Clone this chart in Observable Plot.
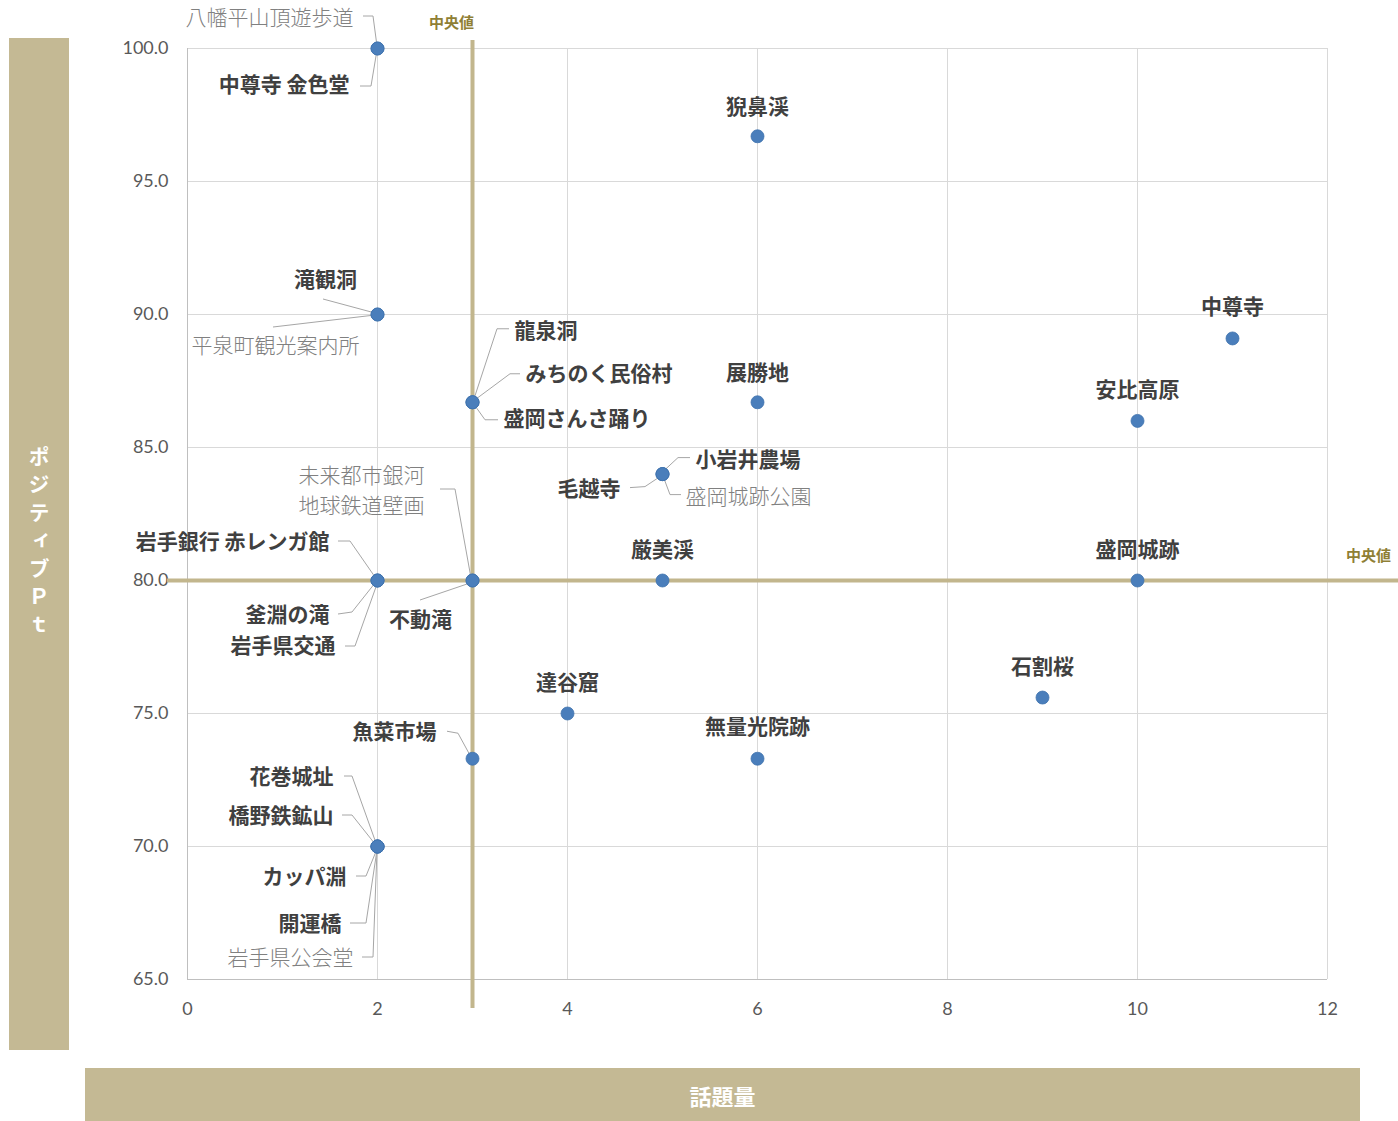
<!DOCTYPE html>
<html>
<head>
<meta charset="utf-8">
<script src="https://cdn.jsdelivr.net/npm/d3@7"></script>
<script src="https://cdn.jsdelivr.net/npm/@observablehq/plot@0.6"></script>
<style>
  body { margin: 0; background: #fff; }
  #wrap { position: relative; width: 1398px; height: 1121px; overflow: hidden; font-family: "Noto Sans CJK JP", sans-serif; }
  .band { position: absolute; background: #c4b994; color: #fff; font-weight: bold; display: flex; align-items: center; justify-content: center; }
  #yband { left: 9px; top: 38px; width: 60px; height: 1012px; }
  #yband span { writing-mode: vertical-rl; text-orientation: upright; font-size: 21px; letter-spacing: 7px; }
  #xband { left: 85px; top: 1068px; width: 1275px; height: 53px; font-size: 22px; }
  #chart { position: absolute; left: 0; top: 0; }
</style>
</head>
<body>
<div id="wrap">
  <div class="band" id="yband"><span>ポジティブＰｔ</span></div>
  <div class="band" id="xband">話題量</div>
  <div id="chart"></div>
</div>
<script>
// ---- data ----
const names = ["八幡平山頂遊歩道","中尊寺 金色堂","猊鼻渓","滝観洞","平泉町観光案内所","中尊寺","龍泉洞","みちのく民俗村","盛岡さんさ踊り","展勝地","安比高原","小岩井農場","毛越寺","盛岡城跡公園","未来都市銀河\n地球鉄道壁画","不動滝","岩手銀行 赤レンガ館","釜淵の滝","岩手県交通","厳美渓","盛岡城跡","石割桜","達谷窟","無量光院跡","魚菜市場","花巻城址","橋野鉄鉱山","カッパ淵","開運橋","岩手県公会堂"];
const wadai = [2,2,6,2,2,11,3,3,3,6,10,5,5,5,3,3,2,2,2,5,10,9,4,6,3,2,2,2,2,2];
const positive = [100,100,96.7,90,90,89.1,86.7,86.7,86.7,86.7,86.0,84.0,84.0,84.0,80,80,80,80,80,80,80,75.6,75,73.3,73.3,70,70,70,70,70];
const xTicks = [0,2,4,6,8,10,12];
const yTicks = [65,70,75,80,85,90,95,100];
const medianLabel = "中央値";

// ---- label layout (pixel offsets from each point) ----
const layout = [
  {dx:-24, dy:-31, a:"end", light:true, leader:[[-14,-32],[-4,-32],[0,-2]]},
  {dx:-28, dy:36, a:"end", leader:[[-17,38],[-6,38],[0,2]]},
  {dx:0, dy:-30, a:"middle"},
  {dx:-52, dy:-35, a:"middle", leader:[[-54,-15],[-2,-1]]},
  {dx:-102, dy:31, a:"middle", light:true, leader:[[-104,13],[-2,1]]},
  {dx:0, dy:-32, a:"middle"},
  {dx:42, dy:-72, a:"start", leader:[[37,-73],[25,-73],[2,-3]]},
  {dx:53, dy:-29, a:"start", leader:[[48,-28],[38,-28],[3,-2]]},
  {dx:31, dy:16, a:"start", leader:[[26,18],[13,18],[3,4]]},
  {dx:0, dy:-30, a:"middle"},
  {dx:0, dy:-32, a:"middle"},
  {dx:33, dy:-15, a:"start", leader:[[28,-16],[16,-16],[2,-3]]},
  {dx:-42, dy:14, a:"end", leader:[[-32,14],[-17,13],[-2,3]]},
  {dx:23, dy:22, a:"start", light:true, leader:[[19,21],[8,21],[2,5]]},
  {dx:-48, dy:-90, a:"end", light:true, leader:[[-32,-91],[-17,-91],[-1,-2]]},
  {dx:-52, dy:39, a:"middle", leader:[[-52,20],[-2,3]]},
  {dx:-48, dy:-39, a:"end", leader:[[-39,-39],[-27,-39],[-2,-3]]},
  {dx:-48, dy:34, a:"end", leader:[[-39,34],[-25,32],[-2,3]]},
  {dx:-42, dy:65, a:"end", leader:[[-32,66],[-22,66],[0,4]]},
  {dx:0, dy:-31, a:"middle"},
  {dx:0, dy:-31, a:"middle"},
  {dx:0, dy:-31, a:"middle"},
  {dx:0, dy:-31, a:"middle"},
  {dx:0, dy:-32, a:"middle"},
  {dx:-36, dy:-27, a:"end", leader:[[-25,-27],[-14,-25],[-2,-3]]},
  {dx:-44, dy:-70, a:"end", leader:[[-33,-70],[-25,-70],[-1,-3]]},
  {dx:-44, dy:-31, a:"end", leader:[[-35,-31],[-25,-31],[-2,-2]]},
  {dx:-31, dy:30, a:"end", leader:[[-21,30],[-11,30],[0,3]]},
  {dx:-36, dy:77, a:"end", leader:[[-27,77],[-11,77],[0,4]]},
  {dx:-24, dy:111, a:"end", light:true, leader:[[-15,111],[-4,111],[0,4]]}
];

const idx = d3.range(names.length);
const medX = d3.median(wadai);
const medY = d3.median(positive);
const tan = "#c2b68d";

const labelMarks = idx.map(i => Plot.text([i], {
  x: j => wadai[j], y: j => positive[j], text: j => names[j],
  dx: layout[i].dx, dy: layout[i].dy - 2, textAnchor: layout[i].a,
  fontSize: 21, lineHeight: 1.43,
  fontFamily: "Noto Sans CJK JP",
  fontWeight: layout[i].light ? 300 : "bold",
  fill: layout[i].light ? "#808080" : "#404040"
}));

const chart = Plot.plot({
  width: 1398, height: 1060,
  marginLeft: 187, marginRight: 71, marginTop: 48, marginBottom: 81,
  style: {background: "transparent", overflow: "visible"},
  x: {domain: [0, 12], ticks: xTicks, label: null},
  y: {domain: [65, 100], ticks: yTicks, label: null},
  marks: [
    Plot.gridX(xTicks, {stroke: "#d9d9d9", strokeOpacity: 1}),
    Plot.gridY(yTicks, {stroke: "#d9d9d9", strokeOpacity: 1}),
    Plot.ruleY([65], {stroke: "#bfbfbf"}),
    Plot.ruleX([0], {stroke: "#bfbfbf"}),
    Plot.axisX(xTicks, {tickSize: 0, tickPadding: 23, fontSize: 18, fontFamily: "Lato", fill: "#595959"}),
    Plot.axisY(yTicks, {tickSize: 0, tickPadding: 19, fontSize: 18, fontFamily: "Lato", fill: "#595959", tickFormat: d3.format(".1f")}),
    Plot.ruleY([medY], {stroke: tan, strokeWidth: 4, insetLeft: -20, insetRight: -71}),
    Plot.ruleX([medX], {stroke: tan, strokeWidth: 4, insetTop: -8, insetBottom: -29}),
    Plot.text([medX], {x: d => d, y: () => 100, text: () => medianLabel, dx: -21, dy: -25, fontSize: 15, fontWeight: "bold", fill: "#8f7f35", fontFamily: "Noto Sans CJK JP"}),
    Plot.text([medY], {x: () => 12, y: d => d, text: () => medianLabel, dx: 41, dy: -24, fontSize: 15, fontWeight: "bold", fill: "#8f7f35", fontFamily: "Noto Sans CJK JP"}),
    Plot.dot(idx, {x: i => wadai[i], y: i => positive[i], r: 6.5, fill: "#4a7ebb", stroke: "#3f72ad", strokeWidth: 0.8}),
    ...labelMarks
  ]
});
document.getElementById("chart").appendChild(chart);

// leader lines through the plot's own scales
const sx = chart.scale("x"), sy = chart.scale("y");
const svg = d3.select(chart);
const g = svg.insert("g", 'g[aria-label="dot"]').attr("fill", "none").attr("stroke", "#a6a6a6").attr("stroke-width", 1);
idx.forEach(i => {
  const L = layout[i].leader;
  if (!L) return;
  const px = sx.apply(wadai[i]), py = sy.apply(positive[i]);
  g.append("path").attr("d", d3.line()(L.map(([a, b]) => [px + a, py + b])));
});
</script>
</body>
</html>
